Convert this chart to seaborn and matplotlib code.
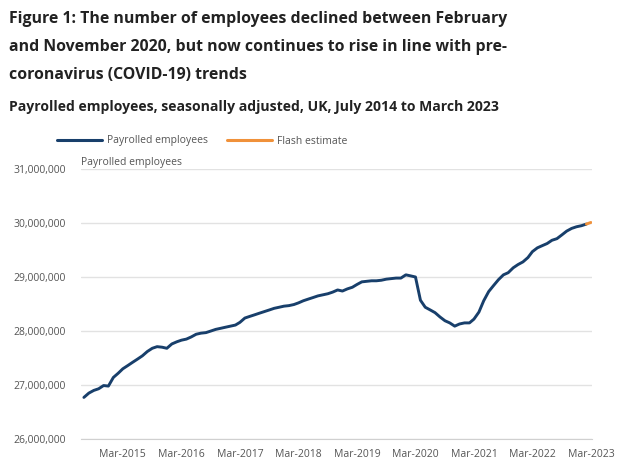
import numpy as np
import pandas as pd
import matplotlib.pyplot as plt
import seaborn as sns
from matplotlib.lines import Line2D

# monthly payrolled employees (millions), Jul 2014 to Mar 2023
months = pd.date_range("2014-07-01", "2023-03-01", freq="MS")
employees = [
    26.77, 26.85, 26.90, 26.93, 26.99, 26.98,
    27.14, 27.22, 27.30, 27.36, 27.42, 27.48, 27.54, 27.62, 27.68, 27.71, 27.70, 27.68,
    27.76, 27.80, 27.83, 27.85, 27.89, 27.94, 27.96, 27.97, 28.00, 28.03, 28.05, 28.07,
    28.09, 28.11, 28.16, 28.24, 28.27, 28.30, 28.33, 28.36, 28.39, 28.42, 28.44, 28.46,
    28.47, 28.49, 28.52, 28.56, 28.59, 28.62, 28.65, 28.67, 28.69, 28.72, 28.76, 28.74,
    28.78, 28.81, 28.86, 28.91, 28.92, 28.93, 28.93, 28.94, 28.96, 28.97, 28.98, 28.98,
    29.04, 29.02, 29.00, 28.57, 28.44, 28.39, 28.34, 28.26, 28.19, 28.15, 28.09, 28.13,
    28.15, 28.15, 28.22, 28.35, 28.56, 28.73, 28.84, 28.95, 29.04, 29.08, 29.17, 29.23,
    29.28, 29.36, 29.47, 29.54, 29.58, 29.62, 29.68, 29.71, 29.78, 29.85, 29.90, 29.93,
    29.95, 29.98, 30.01,
]
series_names = ["Payrolled employees", "Flash estimate"]
tick_dates = pd.date_range("2015-03-01", "2023-03-01", freq="12MS")
tick_labels = [d.strftime("%b-%Y") for d in tick_dates]

values = np.array(employees) * 1e6
n = len(values)
# the flash estimate shares the Feb 2023 point so the two lines join up
main = pd.DataFrame({"date": months[: n - 1], "value": values[: n - 1], "series": series_names[0]})
flash = pd.DataFrame({"date": months[n - 2:], "value": values[n - 2:], "series": series_names[1]})
df = pd.concat([main, flash], ignore_index=True)

blue = "#183f6b"
orange = "#f0913a"

sns.set_style("white")
plt.rcParams["font.family"] = ["Open Sans", "DejaVu Sans"]

fig = plt.figure(figsize=(6.34, 4.76), dpi=100)
ax = fig.add_axes([81 / 634, 1 - 439 / 476, (592 - 81) / 634, (439 - 169) / 476])

sns.lineplot(data=df, x="date", y="value", hue="series",
             palette={series_names[0]: blue, series_names[1]: orange},
             linewidth=2.1, ax=ax, legend=False)

ax.set_ylim(26e6, 31e6)
ax.set_xlim(pd.Timestamp("2014-06-13"), pd.Timestamp("2023-03-08"))
yt = np.arange(26e6, 31.1e6, 1e6)
ax.set_yticks(yt)
ax.set_yticklabels([f"{int(v):,}" for v in yt])
ax.set_xticks(tick_dates)
ax.set_xticklabels(tick_labels)
ax.grid(axis="y", color="#e2e2e2", linewidth=1)
ax.set_axisbelow(True)
for s in ["top", "right", "left"]:
    ax.spines[s].set_visible(False)
ax.spines["bottom"].set_color("#d0d0d0")
ax.tick_params(axis="x", colors="#d0d0d0", labelcolor="#555555", labelsize=7.5,
               length=6, width=1, direction="out", pad=1.5)
ax.tick_params(axis="y", labelcolor="#555555", labelsize=7.5, length=0, pad=11)
ax.set_xlabel("")
ax.set_ylabel("")

fig.text(81 / 634, 1 - 162 / 476, "Payrolled employees", fontsize=7.5, color="#555555", va="center")

# legend above the plot
handles = [Line2D([], [], color=blue, lw=2.2), Line2D([], [], color=orange, lw=2.2)]
fig.legend(handles, series_names, loc="center left", bbox_to_anchor=(48 / 634, 1 - 141 / 476),
           ncol=2, frameon=False, fontsize=7.5, handlelength=4.3, columnspacing=1.8,
           handletextpad=0.5, labelcolor="#555555")

title = ("Figure 1: The number of employees declined between February\n"
         "and November 2020, but now continues to rise in line with pre-\n"
         "coronavirus (COVID-19) trends")
fig.text(9 / 634, 1 - 11 / 476, title, fontsize=11.4, fontweight="bold", color="#222222",
         va="top", linespacing=1.98)
fig.text(9 / 634, 1 - 107 / 476, "Payrolled employees, seasonally adjusted, UK, July 2014 to March 2023",
         fontsize=10.1, fontweight="bold", color="#222222", va="center")

fig.savefig("out.png", dpi=100)
